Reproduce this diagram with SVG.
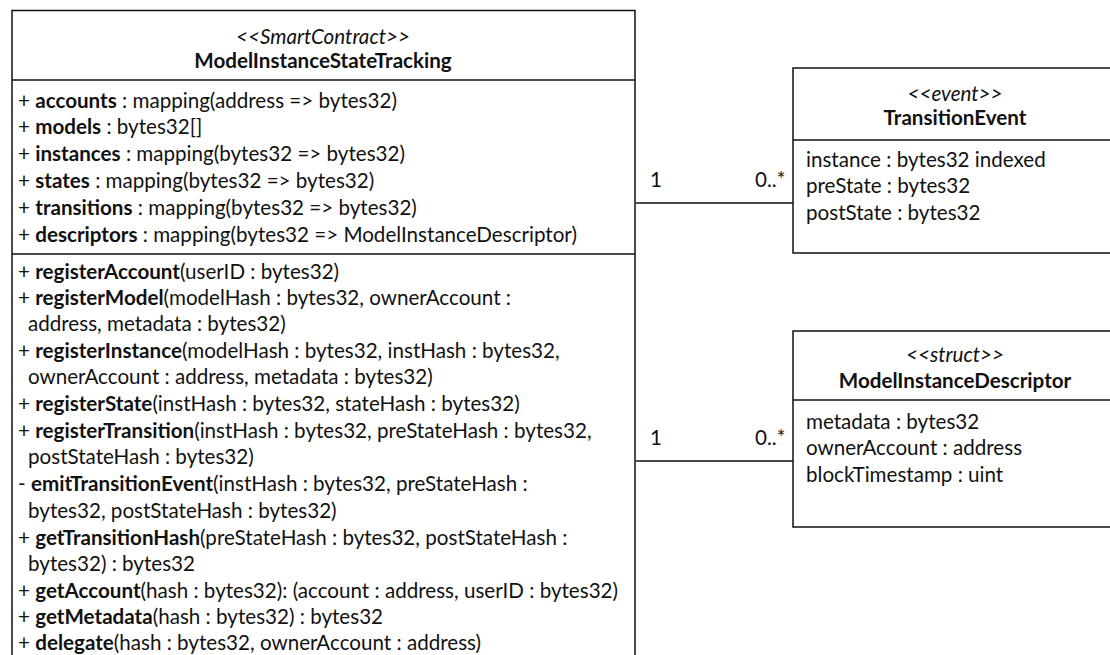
<svg xmlns="http://www.w3.org/2000/svg" width="1110" height="655" viewBox="0 0 1110 655">
<style>
text{font-family:Lato,"Liberation Sans",sans-serif;font-size:20.6px;fill:#111}
.c{text-anchor:middle}
.i{font-style:italic}
.b{font-weight:bold}
.box{fill:#fff;stroke:#111;stroke-width:1.5}
.ln{stroke:#111;stroke-width:1.5;fill:none}
</style>
<rect width="1110" height="655" fill="#fff"/>
<g id="connectors">
<line class="ln" x1="636" y1="203" x2="793" y2="203"/>
<text x="650" y="187">1</text>
<text x="755" y="187">0..*</text>
<line class="ln" x1="636" y1="461" x2="793" y2="461"/>
<text x="650" y="445">1</text>
<text x="755" y="445">0..*</text>
</g>
<g id="ModelInstanceStateTracking">
<rect class="box" x="12" y="10.5" width="623" height="700"/>
<line class="ln" x1="12" y1="80" x2="635" y2="80"/>
<line class="ln" x1="12" y1="254" x2="635" y2="254"/>
<text class="c i" x="323" y="44">&lt;&lt;SmartContract&gt;&gt;</text>
<text class="c b" x="323" y="68">ModelInstanceStateTracking</text>
<text x="18" y="108">+ <tspan class="b">accounts</tspan> : mapping(address =&gt; bytes32)</text>
<text x="18" y="134">+ <tspan class="b">models</tspan> : bytes32[]</text>
<text x="18" y="161">+ <tspan class="b">instances</tspan> : mapping(bytes32 =&gt; bytes32)</text>
<text x="18" y="188">+ <tspan class="b">states</tspan> : mapping(bytes32 =&gt; bytes32)</text>
<text x="18" y="215">+ <tspan class="b">transitions</tspan> : mapping(bytes32 =&gt; bytes32)</text>
<text x="18" y="242">+ <tspan class="b">descriptors</tspan> : mapping(bytes32 =&gt; ModelInstanceDescriptor)</text>
<text x="18" y="279">+ <tspan class="b">registerAccount</tspan>(userID : bytes32)</text>
<text x="18" y="305">+ <tspan class="b">registerModel</tspan>(modelHash : bytes32, ownerAccount :</text>
<text x="28" y="331">address, metadata : bytes32)</text>
<text x="18" y="358">+ <tspan class="b">registerInstance</tspan>(modelHash : bytes32, instHash : bytes32,</text>
<text x="28" y="384">ownerAccount : address, metadata : bytes32)</text>
<text x="18" y="411">+ <tspan class="b">registerState</tspan>(instHash : bytes32, stateHash : bytes32)</text>
<text x="18" y="438">+ <tspan class="b">registerTransition</tspan>(instHash : bytes32, preStateHash : bytes32,</text>
<text x="28" y="464">postStateHash : bytes32)</text>
<text x="18" y="491">- <tspan class="b">emitTransitionEvent</tspan>(instHash : bytes32, preStateHash :</text>
<text x="28" y="518">bytes32, postStateHash : bytes32)</text>
<text x="18" y="545">+ <tspan class="b">getTransitionHash</tspan>(preStateHash : bytes32, postStateHash :</text>
<text x="28" y="571">bytes32) : bytes32</text>
<text x="18" y="598">+ <tspan class="b">getAccount</tspan>(hash : bytes32): (account : address, userID : bytes32)</text>
<text x="18" y="624">+ <tspan class="b">getMetadata</tspan>(hash : bytes32) : bytes32</text>
<text x="18" y="650">+ <tspan class="b">delegate</tspan>(hash : bytes32, ownerAccount : address)</text>
</g>
<g id="TransitionEvent">
<rect class="box" x="793" y="68" width="330" height="185"/>
<line class="ln" x1="793" y1="140" x2="1123" y2="140"/>
<text class="c i" x="955" y="101">&lt;&lt;event&gt;&gt;</text>
<text class="c b" x="955" y="125">TransitionEvent</text>
<text x="806" y="167">instance : bytes32 indexed</text>
<text x="806" y="193">preState : bytes32</text>
<text x="806" y="220">postState : bytes32</text>
</g>
<g id="ModelInstanceDescriptor">
<rect class="box" x="793" y="331" width="330" height="196"/>
<line class="ln" x1="793" y1="400" x2="1123" y2="400"/>
<text class="c i" x="955" y="362">&lt;&lt;struct&gt;&gt;</text>
<text class="c b" x="955" y="388">ModelInstanceDescriptor</text>
<text x="806" y="429">metadata : bytes32</text>
<text x="806" y="455">ownerAccount : address</text>
<text x="806" y="482">blockTimestamp : uint</text>
</g>
</svg>
